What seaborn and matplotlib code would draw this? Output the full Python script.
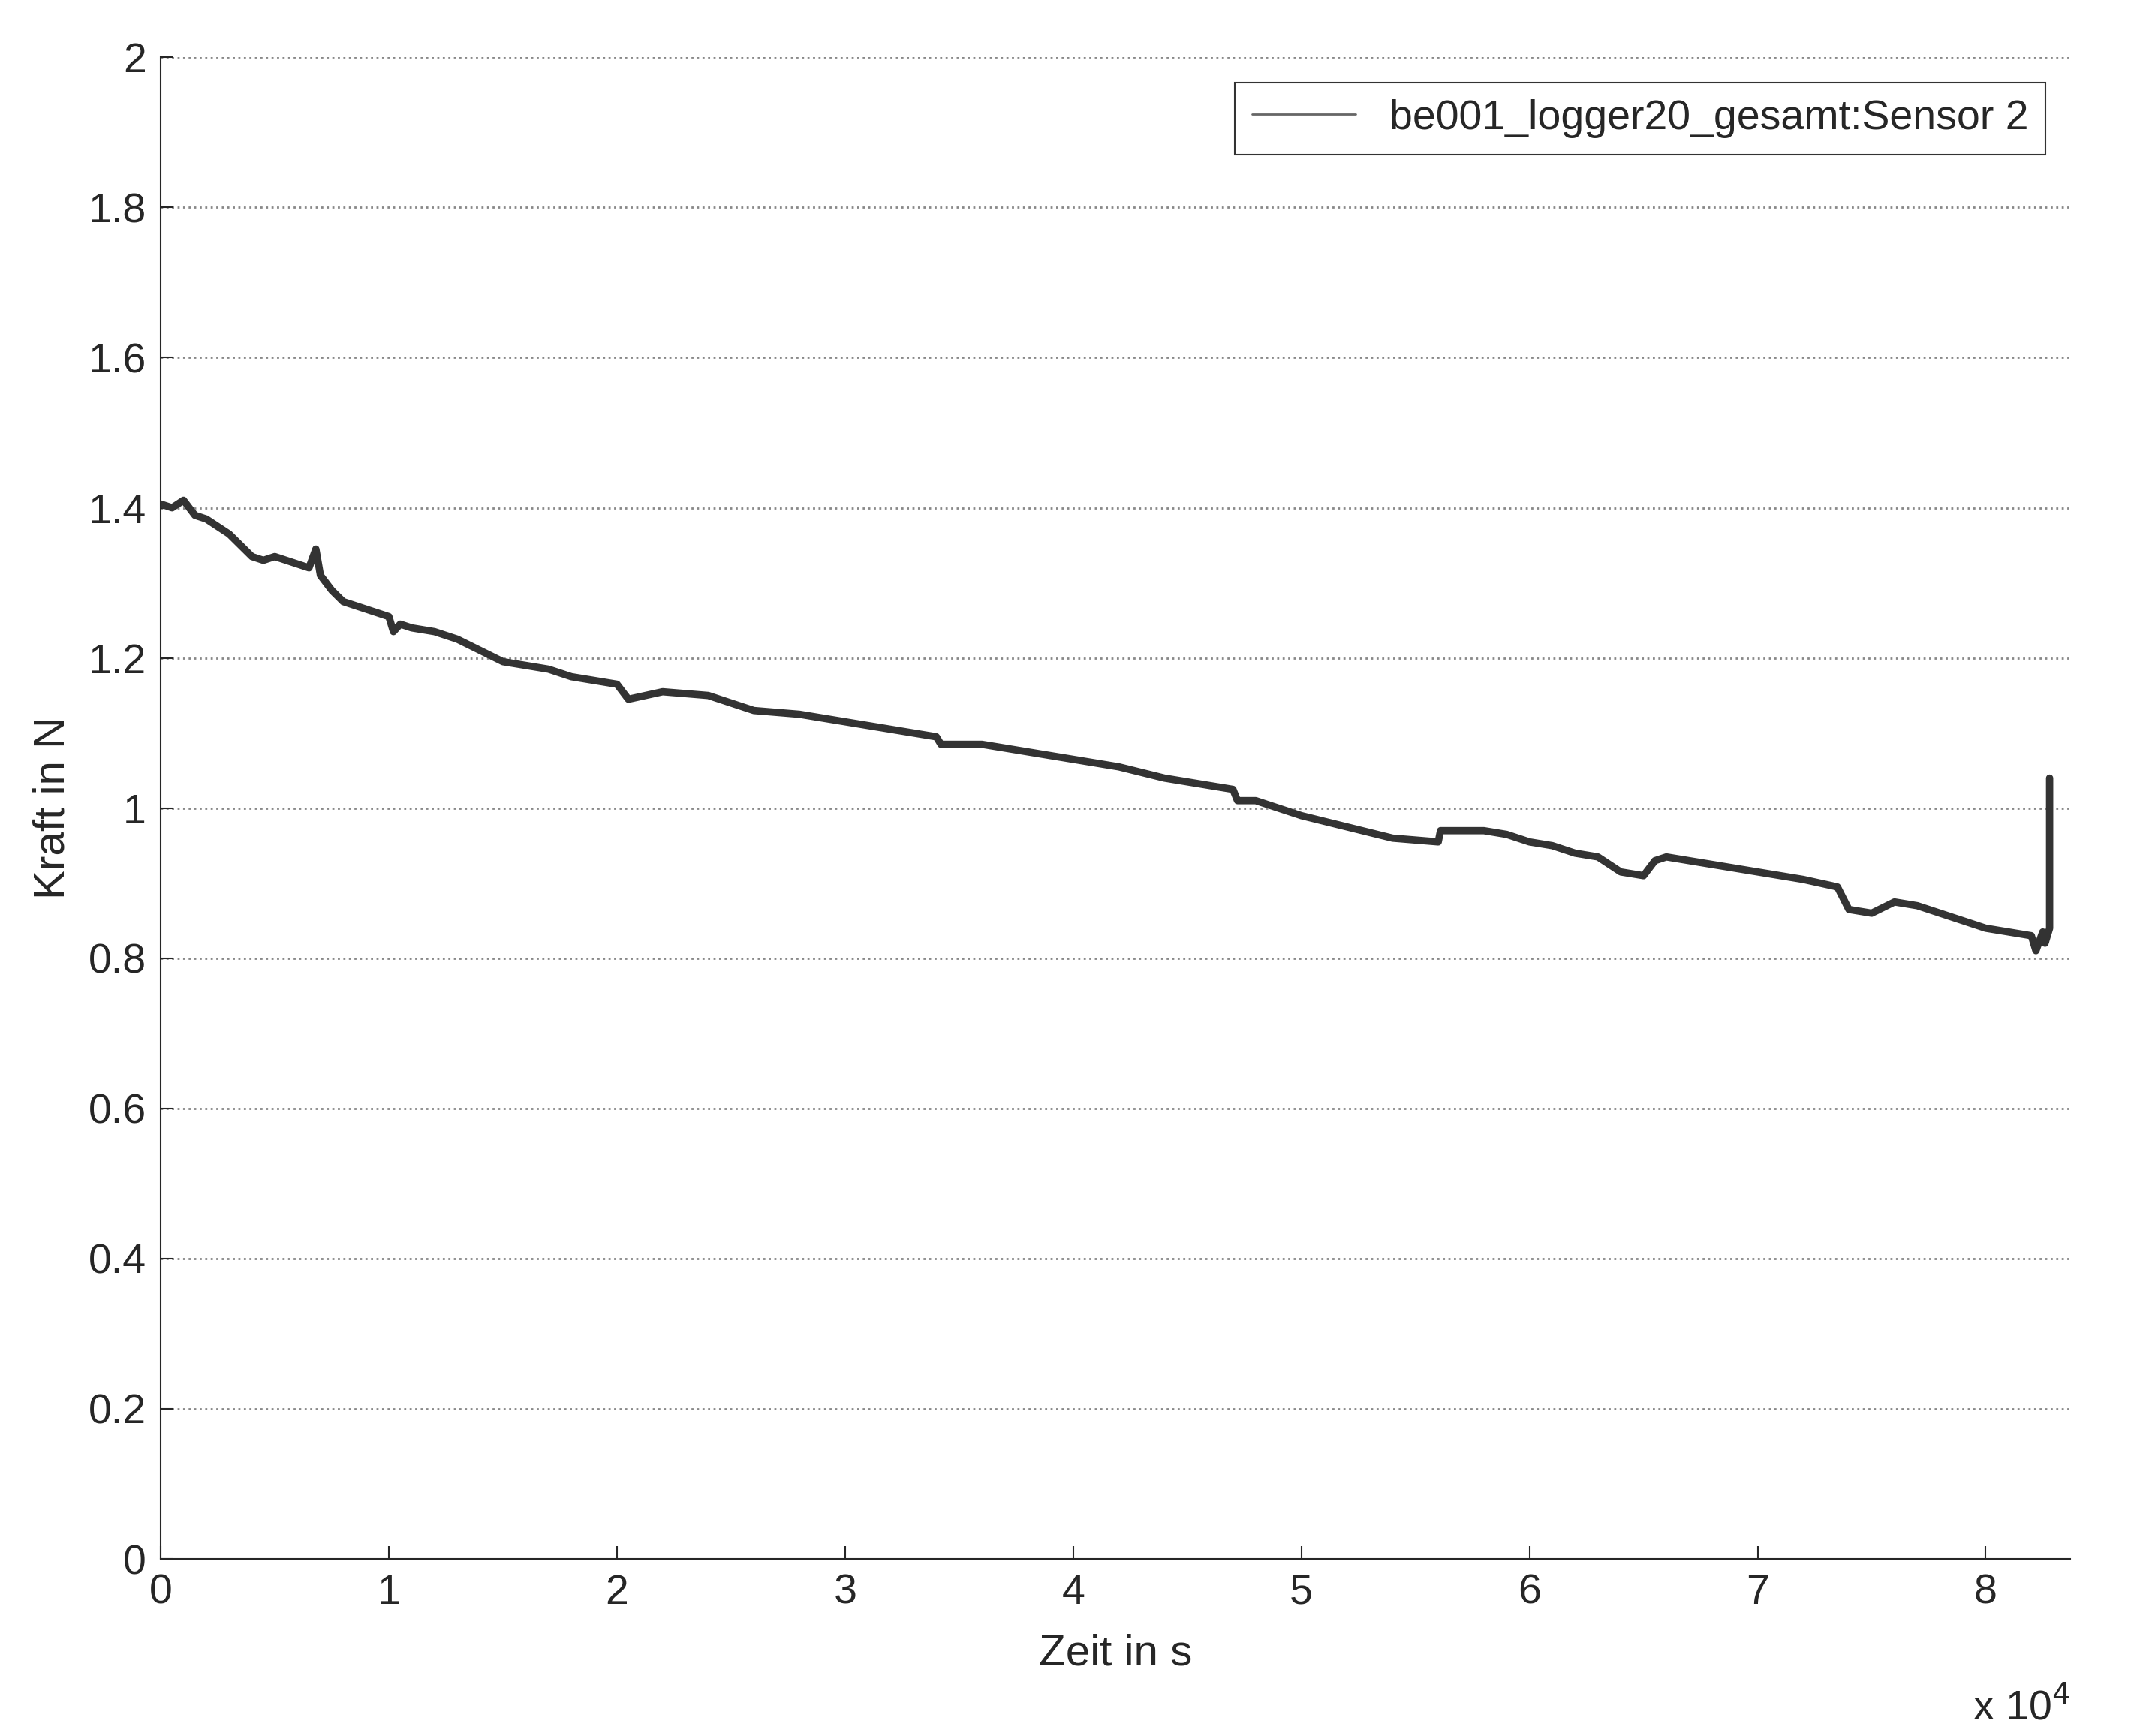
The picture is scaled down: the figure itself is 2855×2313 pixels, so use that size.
import numpy as np
import pandas as pd
import matplotlib
matplotlib.use("Agg")
import matplotlib.pyplot as plt
import seaborn as sns

# Time (in 1e4 s) and force (N)
zeit = [0, 0.05, 0.1, 0.15, 0.2, 0.25, 0.3, 0.35, 0.4, 0.45, 0.5, 0.55, 0.6, 0.65, 0.68, 0.7,
        0.75, 0.8, 0.9, 1.0, 1.02, 1.05, 1.1, 1.2, 1.3, 1.4, 1.5, 1.6, 1.7, 1.8, 1.9, 2.0,
        2.05, 2.2, 2.4, 2.5, 2.6, 2.8, 3.0, 3.2, 3.4, 3.42, 3.6, 3.8, 4.0, 4.2, 4.4, 4.6,
        4.7, 4.72, 4.8, 5.0, 5.2, 5.4, 5.6, 5.61, 5.8, 5.9, 6.0, 6.1, 6.2, 6.3, 6.4, 6.5,
        6.55, 6.6, 6.8, 7.0, 7.2, 7.35, 7.4, 7.5, 7.6, 7.7, 7.9, 8.0, 8.1, 8.2, 8.22, 8.25,
        8.26, 8.28, 8.28]
kraft = [1.405, 1.40, 1.41, 1.39, 1.385, 1.375, 1.365, 1.35, 1.335, 1.33, 1.335, 1.33, 1.325, 1.32, 1.345, 1.31,
         1.29, 1.275, 1.265, 1.255, 1.235, 1.245, 1.24, 1.235, 1.225, 1.21, 1.195, 1.19, 1.185, 1.175, 1.17, 1.165,
         1.145, 1.155, 1.15, 1.14, 1.13, 1.125, 1.115, 1.105, 1.095, 1.085, 1.085, 1.075, 1.065, 1.055, 1.04, 1.03,
         1.025, 1.01, 1.01, 0.99, 0.975, 0.96, 0.955, 0.97, 0.97, 0.965, 0.955, 0.95, 0.94, 0.935, 0.915, 0.91,
         0.93, 0.935, 0.925, 0.915, 0.905, 0.895, 0.865, 0.86, 0.875, 0.87, 0.85, 0.84, 0.835, 0.83, 0.81, 0.835,
         0.82, 0.84, 1.04]

df = pd.DataFrame({"zeit": np.array(zeit) * 1e4, "kraft": kraft})

sns.set_style("ticks")
plt.rcParams["font.family"] = ["Liberation Sans", "DejaVu Sans"]

fig, ax = plt.subplots(figsize=(28.55, 23.13), dpi=100)
fig.subplots_adjust(left=0.075, right=0.966, bottom=0.102, top=0.967)

sns.lineplot(data=df, x="zeit", y="kraft", ax=ax, color="#333333", linewidth=7,
             sort=False, estimator=None, label="be001_logger20_gesamt:Sensor 2", legend=False)

ax.set_xlim(0, 8.37e4)
ax.set_ylim(0, 2)
ax.set_xticks(np.arange(0, 9) * 1e4)
ax.set_xticklabels([str(i) for i in range(9)])
ax.set_yticks(np.arange(0, 2.01, 0.2))
ax.set_yticklabels(["0", "0.2", "0.4", "0.6", "0.8", "1", "1.2", "1.4", "1.6", "1.8", "2"])
ax.tick_params(direction="in", length=12, width=1.5, labelsize=40, pad=14)
ax.yaxis.grid(True, linestyle=":", color="#888888", linewidth=2)
for s in ax.spines.values():
    s.set_linewidth(1.5)
ax.spines["top"].set_visible(False)
ax.spines["right"].set_visible(False)

ax.set_xlabel("Zeit in s", fontsize=42, labelpad=20)
ax.set_ylabel("Kraft in N", fontsize=42, labelpad=14)
ax.text(1.0, -0.085, r"x 10$^4$", transform=ax.transAxes, ha="right", va="top", fontsize=40)

leg = ax.legend(loc="upper right", fontsize=40, frameon=True, fancybox=False,
                edgecolor="black", handlelength=2.5, borderaxespad=0.6)
leg.get_frame().set_linewidth(1.5)
for l in leg.get_lines():
    l.set_linewidth(2)
    l.set_color("#666666")

fig.savefig("out.png", dpi=100)
